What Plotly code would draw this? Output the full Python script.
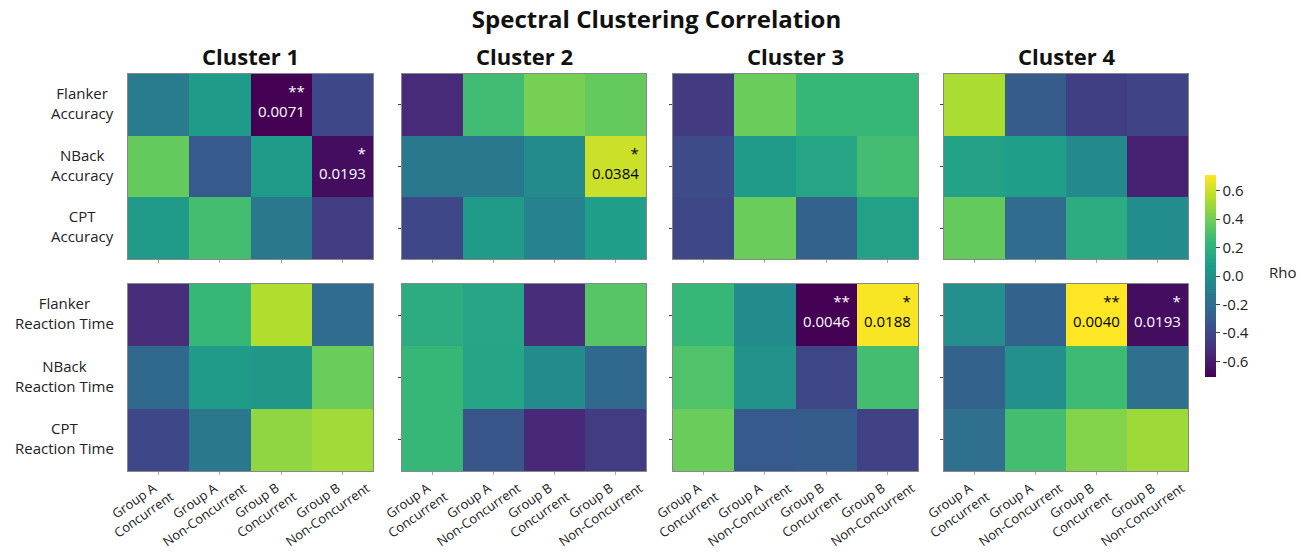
import plotly.graph_objects as go

# ---- data -------------------------------------------------------------
conditions = ["Group A<br>Concurrent", "Group A<br>Non-Concurrent",
              "Group B<br>Concurrent", "Group B<br>Non-Concurrent"]
accuracy_tasks = ["Flanker<br>Accuracy", "NBack<br>Accuracy", "CPT<br>Accuracy"]
rt_tasks = ["Flanker<br>Reaction Time", "NBack<br>Reaction Time", "CPT<br>Reaction Time"]
cluster_titles = ["Cluster 1", "Cluster 2", "Cluster 3", "Cluster 4"]

# Spearman rho, rows = tasks, columns = conditions
c1_accuracy = [[-0.12, 0.07, -0.71, -0.40],
               [0.37, -0.31, 0.07, -0.66],
               [0.06, 0.28, -0.14, -0.45]]
c1_reaction = [[-0.53, 0.24, 0.54, -0.21],
               [-0.23, 0.06, 0.04, 0.38],
               [-0.40, -0.14, 0.47, 0.51]]
c2_accuracy = [[-0.54, 0.27, 0.41, 0.37],
               [-0.14, -0.14, -0.03, 0.60],
               [-0.40, 0.06, -0.08, 0.08]]
c2_reaction = [[0.17, 0.13, -0.53, 0.33],
               [0.24, 0.12, -0.03, -0.23],
               [0.24, -0.33, -0.55, -0.45]]
c3_accuracy = [[-0.46, 0.38, 0.24, 0.24],
               [-0.38, 0.06, 0.13, 0.28],
               [-0.40, 0.38, -0.26, 0.10]]
c3_reaction = [[0.24, -0.03, -0.71, 0.70],
               [0.31, 0.01, -0.41, 0.28],
               [0.38, -0.31, -0.30, -0.43]]
c4_accuracy = [[0.53, -0.30, -0.44, -0.42],
               [0.10, 0.08, -0.04, -0.58],
               [0.37, -0.21, 0.17, -0.02]]
c4_reaction = [[-0.01, -0.26, 0.71, -0.66],
               [-0.26, 0.00, 0.26, -0.19],
               [-0.19, 0.28, 0.44, 0.50]]

accuracy_blocks = [c1_accuracy, c2_accuracy, c3_accuracy, c4_accuracy]
reaction_blocks = [c1_reaction, c2_reaction, c3_reaction, c4_reaction]

# significant cells: cluster index, block (0 accuracy / 1 reaction), row, col
sig_cluster = [0, 0, 1, 2, 2, 3, 3]
sig_block = [0, 0, 0, 1, 1, 1, 1]
sig_row = [0, 1, 1, 0, 0, 0, 0]
sig_col = [2, 3, 3, 2, 3, 2, 3]
sig_stars = ["**", "*", "*", "**", "*", "**", "*"]
sig_pvalue = ["0.0071", "0.0193", "0.0384", "0.0046", "0.0188", "0.0040", "0.0193"]

rho_ticks = [-0.6, -0.4, -0.2, 0.0, 0.2, 0.4, 0.6]

# ---- layout geometry (pixels) ----------------------------------------
W, H = 1313, 556
FONT = "Open Sans"
col_px = [(128, 373), (402, 646), (673, 918), (944, 1188)]
row_px = [(74, 259), (284, 471)]


def fx(px):
    return px / W


def fy(py):
    return 1 - py / H


fig = go.Figure()
layout_axes = {}
annotations = []

for b, blocks in enumerate([accuracy_blocks, reaction_blocks]):
    for c in range(4):
        k = b * 4 + c + 1
        xa, ya = f"x{k}", f"y{k}"
        fig.add_trace(go.Heatmap(
            z=blocks[c], x=[0, 1, 2, 3], y=[0, 1, 2],
            xaxis=xa, yaxis=ya, coloraxis="coloraxis",
            hovertemplate="rho=%{z:.2f}<extra></extra>",
        ))
        x0, x1 = col_px[c]
        y0, y1 = row_px[b]
        layout_axes[f"xaxis{k}"] = dict(
            domain=[fx(x0), fx(x1)], anchor=ya, range=[-0.5, 3.5],
            showgrid=False, zeroline=False, showticklabels=False,
            ticks="outside", ticklen=3, tickcolor="#aaa",
            tickvals=[0, 1, 2, 3],
            showline=True, mirror=True, linecolor="#888", linewidth=1,
        )
        layout_axes[f"yaxis{k}"] = dict(
            domain=[fy(y1), fy(y0)], anchor=xa, range=[2.5, -0.5],
            showgrid=False, zeroline=False, showticklabels=False,
            ticks="outside" if c > 0 else "", ticklen=3, tickcolor="#444",
            tickvals=[0, 1, 2],
            showline=True, mirror=True, linecolor="#888", linewidth=1,
        )
        # condition labels under each bottom panel, rotated about their centre
        if b == 1:
            for j, lab in enumerate(conditions):
                annotations.append(dict(
                    xref=xa, yref="paper", x=j, y=fy(y1),
                    xanchor="center", yanchor="middle", xshift=-20, yshift=-36,
                    text=lab, textangle=-35, showarrow=False, align="center",
                    font=dict(family=FONT, size=13, color="#222"),
                ))

# task labels on the left of the first column
for b, tasks in enumerate([accuracy_tasks, rt_tasks]):
    k = b * 4 + 1
    for i, lab in enumerate(tasks):
        annotations.append(dict(
            xref="paper", yref=f"y{k}", x=fx(col_px[0][0]), y=i,
            xanchor="right", yanchor="middle", xshift=-12, yshift=2,
            text=lab, showarrow=False, align="center",
            font=dict(family=FONT, size=15, color="#222"),
        ))

# cluster titles
for c, t in enumerate(cluster_titles):
    annotations.append(dict(
        xref="paper", yref="paper", x=fx((col_px[c][0] + col_px[c][1]) / 2),
        y=fy(56), xanchor="center", yanchor="middle", text=t, showarrow=False,
        font=dict(family=FONT, size=22, color="#111", weight="bold"),
    ))

# significance marks
blocks_all = [accuracy_blocks, reaction_blocks]
for cl, bl, r, cc, st, p in zip(sig_cluster, sig_block, sig_row, sig_col,
                                sig_stars, sig_pvalue):
    k = bl * 4 + cl + 1
    val = blocks_all[bl][cl][r][cc]
    annotations.append(dict(
        xref=f"x{k}", yref=f"y{k}", x=cc + 0.5, y=r - 0.5,
        xanchor="right", yanchor="top", xshift=-5, yshift=-5,
        text=f"{st}<br>{p}", showarrow=False, align="right",
        font=dict(family=FONT, size=15, color="black" if val > 0.3 else "white"),
    ))

# colorbar caption
annotations.append(dict(
    xref="paper", yref="paper", x=fx(1282), y=fy(272),
    xanchor="center", yanchor="middle", text="Rho", showarrow=False,
    font=dict(family=FONT, size=15, color="#222"),
))

fig.update_layout(
    width=W, height=H,
    margin=dict(l=0, r=0, t=0, b=0),
    paper_bgcolor="white", plot_bgcolor="white",
    title=dict(text="Spectral Clustering Correlation", x=0.5, xanchor="center",
               y=fy(20), yanchor="middle", xref="paper", yref="paper",
               font=dict(family=FONT, size=24, color="#111", weight="bold")),
    coloraxis=dict(
        colorscale="Viridis", cmin=-0.71, cmax=0.71,
        colorbar=dict(
            thickness=11, lenmode="pixels", len=202,
            x=fx(1205), xanchor="left", xpad=0,
            y=fy(276), yanchor="middle", ypad=0,
            outlinewidth=0, ticks="outside", ticklen=4, tickcolor="#444",
            tickvals=rho_ticks, ticktext=[f"{v:.1f}" for v in rho_ticks],
            tickfont=dict(family=FONT, size=15, color="#222"),
        ),
    ),
    annotations=annotations,
    showlegend=False,
    **layout_axes,
)

fig.write_html("out.html")
